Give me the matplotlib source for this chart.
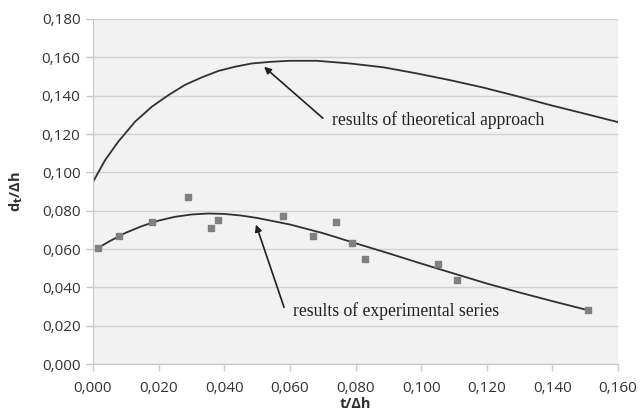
import matplotlib
matplotlib.use("Agg")
import matplotlib.pyplot as plt
from matplotlib.ticker import FuncFormatter, MultipleLocator

# experimental data (squares)
exp_t = [0.0015, 0.008, 0.018, 0.029, 0.036, 0.038, 0.058, 0.067, 0.074, 0.079, 0.083, 0.105, 0.111, 0.151]
exp_v = [0.0605, 0.067, 0.074, 0.087, 0.071, 0.075, 0.077, 0.067, 0.074, 0.063, 0.055, 0.052, 0.044, 0.028]

# experimental trend line
trend_t = [0.0015, 0.005, 0.010, 0.015, 0.020, 0.025, 0.030, 0.035, 0.040, 0.045, 0.050, 0.060, 0.070, 0.080,
           0.090, 0.100, 0.110, 0.120, 0.130, 0.140, 0.151]
trend_v = [0.0605, 0.0640, 0.0685, 0.0720, 0.0748, 0.0768, 0.0780, 0.0785, 0.0783, 0.0775, 0.0762, 0.0728, 0.0683, 0.0630,
           0.0578, 0.0524, 0.0472, 0.0420, 0.0373, 0.0328, 0.0280]

# theoretical curve
theo_t = [0.0, 0.0037, 0.0077, 0.0128, 0.0179, 0.0230, 0.0280, 0.0331, 0.0382, 0.0433, 0.0484, 0.0545,
          0.0600, 0.0682, 0.0783, 0.0885, 0.0987, 0.1088, 0.1190, 0.1291, 0.1393, 0.1494, 0.1600]
theo_v = [0.0950, 0.1064, 0.1160, 0.1264, 0.1342, 0.1403, 0.1456, 0.1495, 0.1529, 0.1551, 0.1568, 0.1577,
          0.1582, 0.1582, 0.1568, 0.1548, 0.1516, 0.1481, 0.1442, 0.1398, 0.1351, 0.1308, 0.1262]

fig = plt.figure(figsize=(6.4, 4.19), dpi=100)
ax = fig.add_axes([93/640, 1 - 364/419, (618-93)/640, (364-19)/419])
ax.set_facecolor("#f2f2f2")
ax.set_xlim(0, 0.16)
ax.set_ylim(0, 0.18)
ax.xaxis.set_major_locator(MultipleLocator(0.02))
ax.yaxis.set_major_locator(MultipleLocator(0.02))
fmt = FuncFormatter(lambda v, p: f"{v:.3f}".replace(".", ","))
ax.xaxis.set_major_formatter(fmt)
ax.yaxis.set_major_formatter(fmt)
ax.grid(axis="y", color="#d0d0d0", linewidth=1)
ax.set_axisbelow(True)
for s in ["top", "right"]:
    ax.spines[s].set_visible(False)
for s in ["left", "bottom"]:
    ax.spines[s].set_color("#c8c8c8")
ax.tick_params(axis="both", colors="#c8c8c8", labelcolor="#333333", labelsize=11, length=5, width=1)
ax.tick_params(axis="x", pad=7)
ax.tick_params(axis="y", pad=4)
for lab in ax.get_xticklabels() + ax.get_yticklabels():
    lab.set_family("Open Sans")

ax.plot(theo_t, theo_v, color="#303030", linewidth=1.3, solid_joinstyle="round")
ax.plot(trend_t, trend_v, color="#303030", linewidth=1.3, solid_joinstyle="round")
ax.scatter(exp_t, exp_v, marker="s", s=22, color="#808080", zorder=3)

ax.annotate("", xy=(0.0515, 0.1560), xytext=(0.0707, 0.1273),
            arrowprops=dict(arrowstyle="-|>", color="#202020", lw=1.2, mutation_scale=10))
ax.text(0.0728, 0.1273, "results of theoretical approach", family="Liberation Serif", fontsize=12.7,
        color="#202020", va="center", ha="left")
ax.annotate("", xy=(0.0494, 0.0741), xytext=(0.0585, 0.0282),
            arrowprops=dict(arrowstyle="-|>", color="#202020", lw=1.2, mutation_scale=10))
ax.text(0.0610, 0.0278, "results of experimental series", family="Liberation Serif", fontsize=12.7,
        color="#202020", va="center", ha="left")

ax.set_xlabel("t/Δh", family="Open Sans", fontweight="bold", fontsize=10.5, color="#303030", labelpad=1)
ax.set_ylabel("d$_\\mathbf{t}$/Δh", family="Open Sans", fontweight="bold", fontsize=10.5, color="#303030", labelpad=12)

fig.savefig("out.png", dpi=100)
